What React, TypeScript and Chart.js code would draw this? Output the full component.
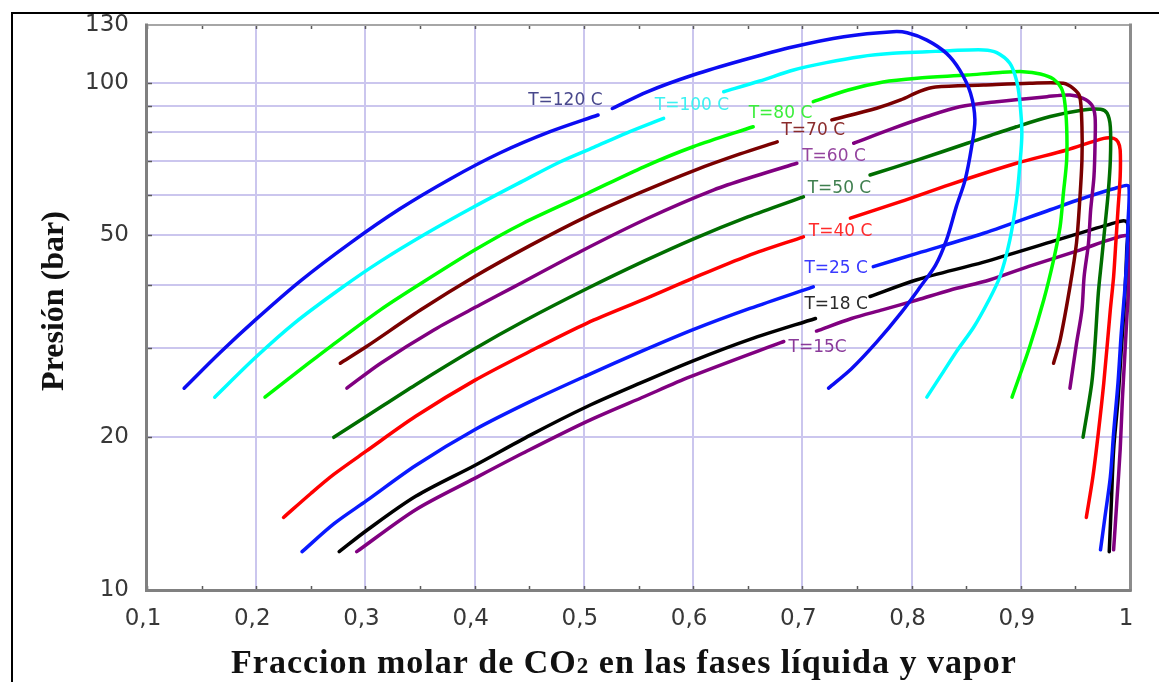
import React, { useEffect, useRef } from "react";
import { Chart, registerables } from "chart.js";

Chart.register(...registerables);

// Axis ticks
const xTickValues = [0.1, 0.2, 0.3, 0.4, 0.5, 0.6, 0.7, 0.8, 0.9, 1.0];
const yTickValues = [10, 20, 30, 40, 50, 60, 70, 80, 90, 100, 130];
const yLabeledTicks = [10, 20, 50, 100, 130];

// Isotherm names
const temperatureLabels = ["T=120 C", "T=100 C", "T=80 C", "T=70 C", "T=60 C", "T=50 C", "T=40 C", "T=25 C", "T=18 C", "T=15C"];

// Each isotherm: CO2 mole fraction (x) and pressure in bar (P); null breaks the line behind a label
const t120X = [0.134, 0.167, 0.200, 0.240, 0.286, 0.332, 0.378, 0.423, 0.469, 0.513, null, 0.526, 0.558, 0.600, 0.646, 0.692, 0.738, 0.783, 0.796, 0.814, 0.832, 0.844, 0.854, 0.858, 0.855, 0.849, 0.841, 0.832, 0.822, 0.808, 0.790, 0.768, 0.745, 0.724];
const t120P = [25.0, 29.4, 34.2, 40.6, 48.3, 56.5, 64.7, 72.7, 80.1, 86.4, null, 89.0, 96.0, 103.6, 110.9, 117.8, 123.3, 126.1, 125.5, 121.4, 114.3, 106.0, 95.4, 84.5, 74.8, 64.3, 57.0, 49.0, 43.7, 39.6, 35.1, 30.8, 27.3, 25.0];

const t100X = [0.162, 0.199, 0.235, 0.278, 0.314, 0.356, 0.399, 0.444, 0.478, 0.509, 0.539, 0.573, null, 0.628, 0.661, 0.692, 0.722, 0.753, 0.783, 0.814, 0.835, 0.866, 0.878, 0.890, 0.896, 0.899, 0.901, 0.899, 0.896, 0.890, 0.881, 0.870, 0.857, 0.841, 0.828, 0.814];
const t100P = [24.0, 28.7, 33.6, 39.4, 44.5, 50.5, 56.9, 64.0, 69.8, 74.6, 79.6, 85.1, null, 96.0, 100.8, 106.0, 109.6, 112.6, 114.3, 115.1, 115.7, 116.1, 114.7, 109.3, 101.3, 92.5, 79.5, 68.3, 58.7, 49.0, 41.5, 37.0, 33.0, 29.5, 26.7, 24.0];

const t80X = [0.208, 0.248, 0.268, 0.314, 0.346, 0.400, 0.444, 0.503, 0.555, 0.600, 0.655, null, 0.710, 0.742, 0.774, 0.805, 0.851, 0.881, 0.902, 0.918, 0.930, 0.937, 0.940, 0.942, 0.942, 0.939, 0.936, 0.930, 0.921, 0.908, 0.892];
const t80P = [24.0, 28.0, 30.2, 35.7, 39.6, 46.8, 52.8, 60.5, 68.3, 74.8, 81.9, null, 91.8, 96.8, 100.4, 102.1, 103.6, 104.8, 105.2, 104.1, 101.7, 97.7, 92.5, 81.9, 70.4, 60.5, 52.0, 44.7, 37.3, 30.1, 24.0];

const t70X = [0.277, 0.301, 0.350, 0.400, 0.451, 0.501, 0.552, 0.602, 0.643, 0.677, null, 0.727, 0.768, 0.790, 0.808, 0.822, 0.866, 0.908, 0.939, 0.948, 0.954, 0.956, 0.956, 0.954, 0.951, 0.945, 0.936, 0.930];
const t70P = [28.0, 30.2, 35.6, 41.5, 47.8, 54.3, 60.8, 67.3, 72.4, 76.5, null, 84.5, 89.1, 92.5, 96.3, 98.1, 99.0, 99.8, 99.8, 97.5, 93.9, 81.9, 70.4, 58.7, 48.3, 39.6, 31.1, 28.0];

const t60X = [0.283, 0.314, 0.363, 0.405, 0.436, 0.497, 0.558, 0.619, 0.657, 0.695, null, 0.747, 0.783, 0.814, 0.844, 0.878, 0.924, 0.945, 0.957, 0.965, 0.968, 0.968, 0.967, 0.964, 0.962, 0.958, 0.956, 0.951, 0.945];
const t60P = [25.0, 28.0, 32.6, 36.5, 39.6, 46.5, 54.0, 61.5, 65.5, 69.4, null, 76.0, 81.3, 85.8, 89.7, 91.8, 93.9, 94.6, 93.2, 90.4, 85.8, 76.0, 65.3, 56.2, 48.3, 41.5, 35.7, 30.6, 25.0];

const t50X = [0.271, 0.301, 0.346, 0.400, 0.444, 0.503, 0.556, 0.600, 0.650, 0.701, null, 0.762, 0.805, 0.851, 0.896, 0.927, 0.957, 0.973, 0.979, 0.982, 0.982, 0.980, 0.977, 0.974, 0.971, 0.968, 0.965, 0.957];
const t50P = [20.0, 22.0, 25.4, 29.9, 33.8, 39.3, 44.6, 49.2, 54.4, 59.6, null, 65.8, 70.4, 76.0, 81.9, 85.8, 88.4, 88.7, 87.1, 81.9, 70.4, 60.5, 52.0, 44.7, 38.5, 30.6, 25.6, 20.0];

const t40X = [0.225, 0.250, 0.271, 0.301, 0.346, 0.400, 0.454, 0.503, 0.556, 0.600, 0.650, 0.701, null, 0.744, 0.790, 0.835, 0.896, 0.942, 0.976, 0.985, 0.989, 0.991, 0.991, 0.989, 0.987, 0.985, 0.982, 0.976, 0.971, 0.966, 0.960];
const t40P = [13.9, 15.5, 16.9, 18.8, 22.0, 25.9, 29.8, 33.6, 37.5, 41.2, 45.6, 49.7, null, 54.1, 58.3, 63.0, 69.4, 73.7, 77.7, 77.7, 76.5, 73.7, 65.3, 56.2, 48.3, 41.5, 35.7, 25.6, 20.4, 16.7, 13.9];

const t25X = [0.242, 0.271, 0.301, 0.346, 0.400, 0.454, 0.503, 0.552, 0.600, 0.652, 0.710, null, 0.765, 0.805, 0.866, 0.927, 0.957, 0.986, 0.999, 0.998, 0.997, 0.995, 0.992, 0.989, 0.985, 0.982, 0.977, 0.973];
const t25P = [11.9, 13.5, 15.0, 17.6, 20.7, 23.7, 26.5, 29.5, 32.6, 35.9, 39.6, null, 43.4, 46.1, 50.5, 56.2, 59.2, 61.9, 62.4, 52.0, 44.7, 38.5, 32.1, 25.6, 20.4, 16.7, 13.9, 12.0];

const t18X = [0.276, 0.301, 0.346, 0.400, 0.451, 0.503, 0.552, 0.600, 0.652, 0.712, null, 0.762, 0.805, 0.866, 0.927, 0.979, 0.997, 0.997, 0.995, 0.992, 0.989, 0.985, 0.983, 0.981];
const t18P = [11.9, 13.1, 15.3, 17.6, 20.2, 23.0, 25.6, 28.3, 31.2, 34.3, null, 37.9, 40.9, 44.3, 48.5, 52.4, 53.2, 46.8, 37.3, 29.7, 23.7, 18.9, 15.0, 11.9];

const t15X = [0.292, 0.346, 0.400, 0.444, 0.503, 0.556, 0.597, 0.674, 0.683, null, 0.713, 0.745, 0.774, 0.805, 0.835, 0.872, 0.908, 0.954, 0.986, 0.998, 0.999, 0.997, 0.995, 0.993, 0.991, 0.988, 0.985];
const t15P = [11.9, 14.4, 16.6, 18.6, 21.5, 24.1, 26.3, 30.4, 30.9, null, 32.4, 34.3, 35.7, 37.3, 39.0, 40.9, 43.5, 46.8, 49.4, 49.7, 40.9, 34.1, 28.4, 23.7, 18.9, 15.0, 12.0];

// Where each isotherm name is written (x, P)
const labelX = [0.483, 0.599, 0.680, 0.710, 0.729, 0.734, 0.735, 0.731, 0.731, 0.714];
const labelP = [92.1, 90.0, 86.8, 80.4, 71.4, 62.0, 51.0, 43.1, 36.5, 30.0];

const curveXs = [t120X, t100X, t80X, t70X, t60X, t50X, t40X, t25X, t18X, t15X];
const curvePs = [t120P, t100P, t80P, t70P, t60P, t50P, t40P, t25P, t18P, t15P];

const lineColors = ["#0c0cf2", "#00ffff", "#00ff00", "#7a0000", "#800080", "#006e00", "#ff0000", "#0a1aff", "#000000", "#800080"];
const labelColors = ["#48488c", "#3cf2f2", "#3cee3c", "#8a2c2c", "#94449e", "#3f7f4f", "#ff2a2a", "#3a3aff", "#2a2a2a", "#8a3a9a"];

const gridColor = "#cbc6ee";
const xTitleParts = ["Fraccion molar de CO", "2", " en las fases líquida y vapor"];
const yTitle = "Presión (bar)";

// Plot box inside the 1159x682 canvas
const AREA = { left: 147, top: 25, right: 1130, bottom: 590 };

const fmtX = (v: number) => (Math.abs(v - 1) < 1e-9 ? "1" : v.toFixed(1).replace(".", ","));

const decorPlugin = {
  id: "decor",
  beforeDraw(chart: any) {
    const { ctx, width, height } = chart;
    ctx.save();
    ctx.fillStyle = "#ffffff";
    ctx.fillRect(0, 0, width, height);
    ctx.strokeStyle = "#000000";
    ctx.lineWidth = 2;
    ctx.beginPath();
    ctx.moveTo(12, height);
    ctx.lineTo(12, 13);
    ctx.lineTo(width, 13);
    ctx.stroke();
    ctx.restore();
  },
  beforeDatasetsDraw(chart: any) {
    const { ctx, chartArea: a, scales } = chart;
    const xs = scales.x;
    const ys = scales.y;
    ctx.save();
    // small inward tick marks
    ctx.strokeStyle = "#5a5a5a";
    ctx.lineWidth = 1.5;
    ctx.beginPath();
    for (let i = 2; i < 20; i++) {
      const px = Math.round(xs.getPixelForValue(i * 0.05)) + 0.5;
      ctx.moveTo(px, a.bottom);
      ctx.lineTo(px, a.bottom - 4);
      ctx.moveTo(px, a.top);
      ctx.lineTo(px, a.top + 4);
    }
    yTickValues.slice(1, -1).forEach((v) => {
      const py = Math.round(ys.getPixelForValue(v)) + 0.5;
      ctx.moveTo(a.left, py);
      ctx.lineTo(a.left + 5, py);
    });
    ctx.stroke();
    // plot frame
    ctx.lineCap = "square";
    ctx.strokeStyle = "#a6a6a6";
    ctx.lineWidth = 2;
    ctx.beginPath();
    ctx.moveTo(a.left, a.top);
    ctx.lineTo(a.right, a.top);
    ctx.stroke();
    ctx.strokeStyle = "#8c8c8c";
    ctx.lineWidth = 3;
    ctx.beginPath();
    ctx.moveTo(a.right + 0.5, a.top);
    ctx.lineTo(a.right + 0.5, a.bottom);
    ctx.stroke();
    ctx.strokeStyle = "#808080";
    ctx.lineWidth = 3;
    ctx.beginPath();
    ctx.moveTo(a.left - 0.5, a.top);
    ctx.lineTo(a.left - 0.5, a.bottom + 0.5);
    ctx.lineTo(a.right, a.bottom + 0.5);
    ctx.stroke();
    ctx.restore();
  },
  afterDatasetsDraw(chart: any) {
    const { ctx, scales } = chart;
    ctx.save();
    ctx.font = '17px "DejaVu Sans"';
    ctx.textAlign = "center";
    ctx.textBaseline = "middle";
    temperatureLabels.forEach((t, i) => {
      ctx.fillStyle = labelColors[i];
      ctx.fillText(t, scales.x.getPixelForValue(labelX[i]), scales.y.getPixelForValue(labelP[i]));
    });
    ctx.restore();
  },
  afterDraw(chart: any) {
    const { ctx } = chart;
    ctx.save();
    ctx.fillStyle = "#111111";
    ctx.textBaseline = "alphabetic";
    (ctx as any).letterSpacing = "1px";
    const big = 'bold 34px "Liberation Serif"';
    const small = 'bold 23px "Liberation Serif"';
    ctx.font = big;
    const w0 = ctx.measureText(xTitleParts[0]).width;
    const w2 = ctx.measureText(xTitleParts[2]).width;
    ctx.font = small;
    const w1 = ctx.measureText(xTitleParts[1]).width;
    let x = 624 - (w0 + w1 + w2) / 2;
    const base = 673;
    ctx.textAlign = "left";
    ctx.font = big;
    ctx.fillText(xTitleParts[0], x, base);
    x += w0;
    ctx.font = small;
    ctx.fillText(xTitleParts[1], x, base);
    x += w1;
    ctx.font = big;
    ctx.fillText(xTitleParts[2], x, base);
    // vertical title
    (ctx as any).letterSpacing = "0px";
    ctx.translate(55, 301);
    ctx.rotate(-Math.PI / 2);
    ctx.textAlign = "center";
    ctx.textBaseline = "middle";
    ctx.font = 'bold 32px "Liberation Serif"';
    ctx.fillText(yTitle, 0, 0);
    ctx.restore();
  },
};

export default function App() {
  const canvasRef = useRef<HTMLCanvasElement | null>(null);

  useEffect(() => {
    if (!canvasRef.current) return;
    const datasets = curveXs.map((xs, i) => ({
      label: temperatureLabels[i],
      data: xs.map((x, j) => ({ x: x, y: curvePs[i][j] })),
      borderColor: lineColors[i],
      backgroundColor: lineColors[i],
      borderWidth: 3.5,
      pointRadius: 0,
      showLine: true,
      fill: false,
      tension: 0.3,
      spanGaps: false,
      borderCapStyle: "round" as const,
      borderJoinStyle: "round" as const,
    }));

    const chart = new Chart(canvasRef.current, {
      type: "scatter",
      data: { datasets },
      options: {
        responsive: false,
        animation: false,
        events: [],
        layout: { padding: { left: 0, top: AREA.top, right: 1159 - AREA.right, bottom: 0 } },
        plugins: { legend: { display: false }, tooltip: { enabled: false } },
        scales: {
          x: {
            type: "linear",
            min: 0.1,
            max: 1.0,
            afterBuildTicks: (s: any) => {
              s.ticks = xTickValues.map((v) => ({ value: v }));
            },
            afterFit: (s: any) => {
              s.height = 682 - AREA.bottom;
              s.paddingLeft = 0;
              s.paddingRight = 0;
            },
            ticks: {
              autoSkip: false,
              maxRotation: 0,
              padding: 15,
              labelOffset: -4,
              color: "#383838",
              font: { family: "DejaVu Sans", size: 23 },
              callback: (v: any) => fmtX(Number(v)),
            },
            grid: {
              drawTicks: false,
              lineWidth: 2,
              color: (c: any) => (c.index === 0 || c.index === xTickValues.length - 1 ? "rgba(0,0,0,0)" : gridColor),
            },
            border: { display: false },
          },
          y: {
            type: "logarithmic",
            min: 10,
            max: 130,
            afterBuildTicks: (s: any) => {
              s.ticks = yTickValues.map((v) => ({ value: v }));
            },
            afterFit: (s: any) => {
              s.width = AREA.left;
              s.paddingTop = 0;
              s.paddingBottom = 0;
            },
            ticks: {
              autoSkip: false,
              padding: 18,
              color: "#383838",
              font: { family: "DejaVu Sans", size: 23 },
              callback: (v: any) => (yLabeledTicks.includes(Number(v)) ? String(v) : ""),
            },
            grid: {
              drawTicks: false,
              lineWidth: 2,
              color: (c: any) => (c.index === 0 || c.index === yTickValues.length - 1 ? "rgba(0,0,0,0)" : gridColor),
            },
            border: { display: false },
          },
        },
      },
      plugins: [decorPlugin],
    });
    return () => chart.destroy();
  }, []);

  return (
    <div style={{ position: "fixed", left: 0, top: 0, width: 1159, height: 682, overflow: "hidden", background: "#fff" }}>
      <canvas ref={canvasRef} width={1159} height={682} style={{ display: "block" }} />
    </div>
  );
}
